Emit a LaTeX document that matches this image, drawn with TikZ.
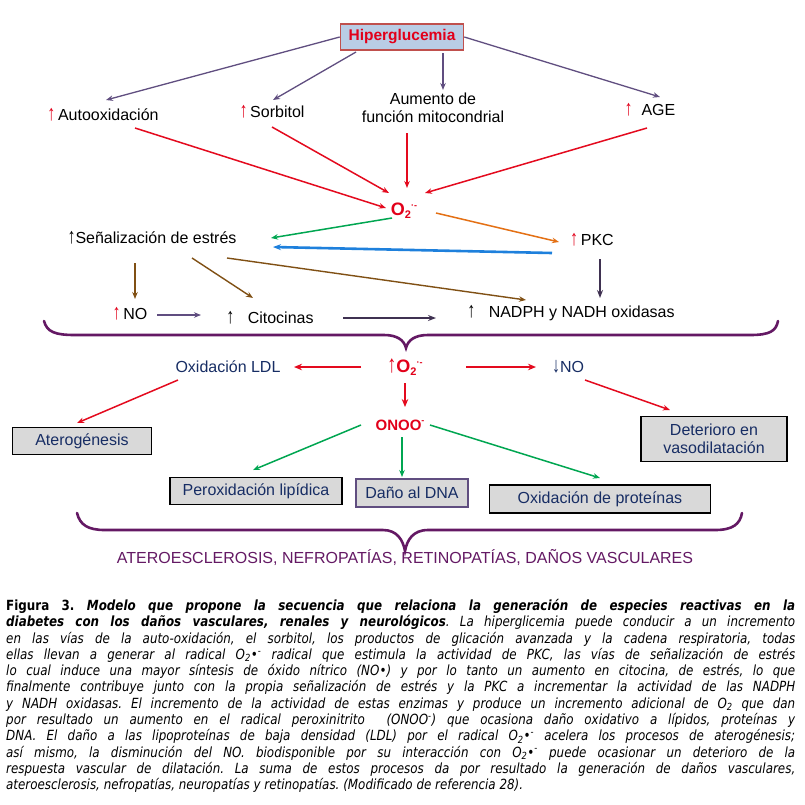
\documentclass[tikz,border=0pt]{standalone}
\usepackage{fontspec}
\setmainfont{Liberation Sans}
\newfontfamily\capfont[FakeStretch=0.85]{DejaVu Sans}
\usetikzlibrary{arrows.meta,calc}
\frenchspacing
\definecolor{upred}{RGB}{226,0,26}
\definecolor{arrred}{RGB}{228,10,30}
\definecolor{pgrey}{RGB}{96,78,128}
\definecolor{dkpurp}{RGB}{63,49,81}
\definecolor{agreen}{RGB}{0,166,81}
\definecolor{aorange}{RGB}{228,112,20}
\definecolor{ablue}{RGB}{30,128,220}
\definecolor{abrown}{RGB}{128,80,20}
\definecolor{brace}{RGB}{100,25,100}
\definecolor{navy}{RGB}{23,45,100}
\definecolor{boxgrey}{RGB}{217,217,217}
\definecolor{hipfill}{RGB}{185,205,229}
\definecolor{hipdraw}{RGB}{192,80,77}
\newcommand{\Otwo}{O\raisebox{-0.35ex}{\fontsize{11}{11}\selectfont 2}\raisebox{0.75ex}{\fontsize{9}{9}\selectfont ·-}}
\newcommand{\UpA}{\scalebox{1}[1.35]{↑}}
\newcommand{\Up}{\textcolor{upred}{\UpA}}
\begin{document}
\begin{tikzpicture}[x=1pt,y=-1pt,
  lbl/.style={font=\fontsize{16}{18.5}\selectfont, inner sep=1pt, align=center},
  nlbl/.style={lbl, text=navy},
  gbox/.style={draw=black, line width=1.7pt, fill=boxgrey, text=navy, font=\fontsize{16}{18.5}\selectfont, inner sep=2pt, align=center, minimum height=27pt},
  tipS/.style={-{Stealth[length=7pt,width=5.5pt]}},
  parr/.style={tipS, draw=pgrey, line width=1.3pt},
  rarr/.style={tipS, draw=arrred, line width=1.5pt},
  rthick/.style={-{Stealth[length=8pt,width=6.5pt]}, draw=arrred, line width=2.4pt},
  garr/.style={tipS, draw=agreen, line width=1.5pt},
  barr/.style={tipS, draw=abrown, line width=1.4pt},
  darr/.style={-{Stealth[length=8pt,width=6pt]}, draw=dkpurp, line width=2pt},
  brc/.style={draw=brace, line width=2.6pt, line cap=round}
]
\useasboundingbox (0,0) rectangle (805,804);
\fill[white] (0,0) rectangle (805,804);

% nodes
\node[draw=hipdraw, line width=1.6pt, fill=hipfill, text=upred, font=\bfseries\fontsize{15.5}{18}\selectfont, minimum width=123pt, minimum height=26pt, inner sep=1pt] (hip) at (402,37) {Hiperglucemia};
\node[lbl] (autoox) at (103,115) {\Up\,Autooxidación};
\node[lbl] (sorb) at (272,112) {\Up\,Sorbitol};
\node[lbl] (mito) at (433,108) {Aumento de\\función mitocondrial};
\node[lbl] (age) at (650,110) {\Up\ \ AGE};
\node[lbl, text=upred, font=\bfseries\fontsize{18}{20}\selectfont] (o2) at (404,211) {\Otwo};
\node[lbl] (senal) at (152,238) {\UpA Señalización de estrés};
\node[lbl] (pkc) at (592,240) {\Up\,PKC};
\node[lbl] (no) at (130,314) {\Up\,NO};
\node[lbl] (cito) at (270,318) {\UpA\ \ \ Citocinas};
\node[lbl] (nadph) at (571,313) {\UpA\ \ \ NADPH y NADH oxidasas};
\node[lbl, text=upred, font=\bfseries\fontsize{18}{20}\selectfont] (o2b) at (405,367) {\UpA\Otwo};
\node[nlbl] (ldl) at (228,367) {Oxidación LDL};
\node[nlbl] (nod) at (568,367) {\scalebox{1}[1.35]{↓}NO};
\node[lbl, text=upred, font=\bfseries\fontsize{15}{18}\selectfont] (onoo) at (400,425) {ONOO\raisebox{0.8ex}{\fontsize{9}{9}\selectfont -}};
\node[gbox, minimum width=139pt] (ater) at (82,441) {Aterogénesis};
\node[gbox, minimum width=146pt, minimum height=45pt] (det) at (714,439) {Deterioro en\\vasodilatación};
\node[gbox, minimum width=172pt] (perox) at (256,491) {Peroxidación lipídica};
\node[gbox, draw=pgrey, minimum width=112pt, minimum height=28pt] (dna) at (412,493) {Daño al DNA};
\node[gbox, minimum width=221pt, minimum height=28pt] (oxprot) at (600,499) {Oxidación de proteínas};
\node[lbl, text=brace] (final) at (405,557) {ATEROESCLEROSIS, NEFROPATÍAS, RETINOPATÍAS, DAÑOS VASCULARES};

% purple arrows from Hiperglucemia
\draw[parr] (hip.west) -- ([shift={(3,-15)}]autoox.center);
\draw[parr] ([shift={(-46,15)}]hip.center) -- ([shift={(1,-12)}]sorb.center);
\draw[parr] ([shift={(41,16)}]hip.center) -- ([shift={(10,-18)}]mito.center);
\draw[parr] (hip.east) -- ([shift={(10,-13)}]age.center);

% red arrows to O2
\draw[rarr] ([shift={(32,13)}]autoox.center) -- ([shift={(-18,-3)}]o2.center);
\draw[rarr] ([shift={(0,15)}]sorb.center) -- ([shift={(-15,-18)}]o2.center);
\draw[rarr] ([shift={(-26,25)}]mito.center) -- ([shift={(3,-23)}]o2.center);
\draw[rarr] ([shift={(-3,18)}]age.center) -- ([shift={(21,-18)}]o2.center);

% O2 outputs
\draw[garr] ([shift={(-12,7)}]o2.center) -- ([shift={(119,0)}]senal.center);
\draw[tipS, draw=aorange, line width=1.5pt] ([shift={(32,2)}]o2.center) -- ([shift={(-33,2)}]pkc.center);
\draw[-{Stealth[length=8pt,width=6pt]}, draw=ablue, line width=2.6pt] ([shift={(-40,13)}]pkc.center) -- ([shift={(121,9)}]senal.center);

% brown from senalizacion
\draw[barr] ([shift={(-17,25)}]senal.center) -- ([shift={(5,-15)}]no.center);
\draw[barr] ([shift={(40,20)}]senal.center) -- ([shift={(-17,-20)}]cito.center);
\draw[barr] ([shift={(75,20)}]senal.center) -- ([shift={(-45,-13)}]nadph.center);
\draw[darr] ([shift={(8,19)}]pkc.center) -- ([shift={(29,-15)}]nadph.center);
\draw[parr, line width=1.8pt] ([shift={(27,1)}]no.center) -- ([shift={(-69,-3)}]cito.center);
\draw[darr, line width=2.4pt] ([shift={(73,0)}]cito.center) -- ([shift={(-135,5)}]nadph.center);

% braces
\draw[brc] (44,321) .. controls (47,332) and (55,335) .. (75,335) -- (384,335)
  .. controls (397,335) and (404,340) .. (406,348)
  .. controls (408,340) and (415,335) .. (428,335) -- (750,335)
  .. controls (770,335) and (776,331) .. (778,321);
\draw[brc] (77,513) .. controls (80,525) and (88,530) .. (105,530) -- (383,530)
  .. controls (397,530) and (403,540) .. (405,551)
  .. controls (407,540) and (413,530) .. (428,530) -- (715,530)
  .. controls (733,530) and (740,524) .. (742,513);

% lower arrows
\draw[rthick] ([shift={(-44,0)}]o2b.center) -- ([shift={(66,0)}]ldl.center);
\draw[rthick] ([shift={(61,0)}]o2b.center) -- ([shift={(-32,0)}]nod.center);
\draw[rthick] ([shift={(0,16)}]o2b.center) -- ([shift={(5,-18)}]onoo.center);
\draw[rarr] ([shift={(-50,13)}]ldl.center) -- ([shift={(-5,-18)}]ater.center);
\draw[rarr] ([shift={(17,13)}]nod.center) -- ([shift={(-44,-29)}]det.center);
\draw[garr] ([shift={(-39,0)}]onoo.center) -- ([shift={(-3,-21)}]perox.center);
\draw[garr] ([shift={(2,12)}]onoo.center) -- ([shift={(-10,-16)}]dna.center);
\draw[garr] ([shift={(30,0)}]onoo.center) -- ([shift={(0,-21)}]oxprot.center);

% caption
\node[anchor=north west, inner sep=0pt, text width=789pt, align=justify, font=\capfont\fontsize{14}{16.3}\selectfont] (cap) at (6,599) {%
\textbf{Figura 3. \textit{Modelo que propone la secuencia que relaciona la generación de especies reactivas en la}}\linebreak
\textbf{\textit{diabetes con los daños vasculares, renales y neurológicos}}\textit{. La hiperglicemia puede conducir a un incremento\linebreak
en las vías de la auto-oxidación, el sorbitol, los productos de glicación avanzada y la cadena respiratoria, todas\linebreak
ellas llevan a generar al radical O\textsubscript{2}•\textsuperscript{-} radical que estimula la actividad de PKC, las vías de señalización de estrés\linebreak
lo cual induce una mayor síntesis de óxido nítrico (NO•) y por lo tanto un aumento en citocina, de estrés, lo que\linebreak
finalmente contribuye junto con la propia señalización de estrés y la PKC a incrementar la actividad de las NADPH\linebreak
y NADH oxidasas. El incremento de la actividad de estas enzimas y produce un incremento adicional de O\textsubscript{2} que dan\linebreak
por resultado un aumento en el radical peroxinitrito \ (ONOO\textsuperscript{-}) que ocasiona daño oxidativo a lípidos, proteínas y\linebreak
DNA. El daño a las lipoproteínas de baja densidad (LDL) por el radical O\textsubscript{2}•\textsuperscript{-} acelera los procesos de aterogénesis;\linebreak
así mismo, la disminución del NO. biodisponible por su interacción con O\textsubscript{2}•\textsuperscript{-} puede ocasionar un deterioro de la\linebreak
respuesta vascular de dilatación. La suma de estos procesos da por resultado la generación de daños vasculares,\linebreak
ateroesclerosis, nefropatías, neuropatías y retinopatías. (Modificado de referencia 28).}};
\end{tikzpicture}
\end{document}
